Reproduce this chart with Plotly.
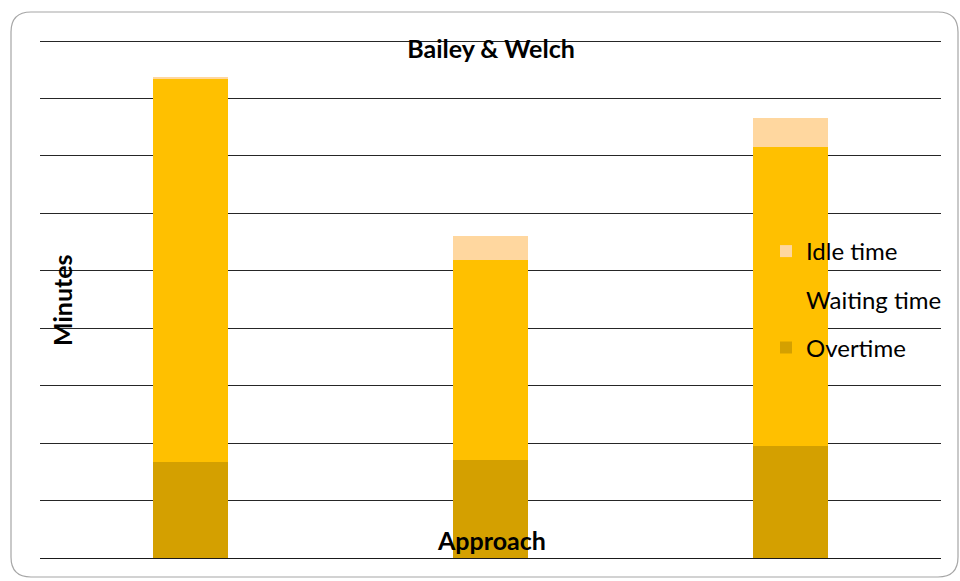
import plotly.graph_objects as go

# Stacked time components (minutes) for each scheduling approach
approaches = ["Approach A", "Approach B", "Approach C"]
overtime = [16.7, 17.1, 19.5]
waiting_time = [66.7, 34.7, 52.1]
idle_time = [0.35, 4.2, 5.0]

series_names = ["Overtime", "Waiting time", "Idle time"]
series_colors = ["#D4A000", "#FFC000", "#FFD79F"]
legend_ranks = [3, 2, 1]

W, H = 960, 581
L, R, T, B = 40, 19, 39, 23
FONT = "Lato, 'Open Sans', sans-serif"

# plot area in pixels; the 0-90 grid spans 517 px, with a little headroom
pw, ph = W - L - R, H - T - B
y_top = 90 * ph / 517

fig = go.Figure()
for name, vals, col, rank in zip(series_names, [overtime, waiting_time, idle_time],
                                 series_colors, legend_ranks):
    fig.add_trace(go.Bar(
        x=approaches, y=vals, name=name, legendgroup=name, legendrank=rank,
        marker=dict(color=col, line=dict(width=0)),
        width=0.25,
    ))

# helpers: pixel -> paper coordinates
def px(x):
    return (x - L) / pw
def py(y):
    return (H - B - y) / ph

# rounded chart border
x0, x1, y0, y1 = px(11), px(958), py(12), py(577)
rx, ry = 20 / pw, 20 / ph
path = (f"M{x0+rx},{y0} L{x1-rx},{y0} Q{x1},{y0} {x1},{y0-ry} "
        f"L{x1},{y1+ry} Q{x1},{y1} {x1-rx},{y1} L{x0+rx},{y1} "
        f"Q{x0},{y1} {x0},{y1+ry} L{x0},{y0-ry} Q{x0},{y0} {x0+rx},{y0} Z")

fig.update_layout(
    width=W, height=H,
    margin=dict(l=L, r=R, t=T, b=B),
    paper_bgcolor="white", plot_bgcolor="white",
    barmode="stack",
    font=dict(family=FONT, color="black"),
    title=dict(text="<b>Bailey & Welch</b>", x=px(491), xref="paper", xanchor="center",
               y=1 - 49 / H, yanchor="middle", font=dict(size=25, family=FONT)),
    xaxis=dict(showticklabels=False, showgrid=False, ticks="", showline=False,
               zeroline=False),
    yaxis=dict(range=[0, y_top], tick0=0, dtick=10, showticklabels=False, ticks="",
               showgrid=True, gridcolor="#262626", gridwidth=1.4,
               zeroline=True, zerolinecolor="#1a1a1a", zerolinewidth=1.4,
               showline=False),
    legend=dict(x=px(766), y=py(229), xanchor="left", yanchor="top",
                bgcolor="rgba(0,0,0,0)", traceorder="grouped",
                tracegroupgap=14, font=dict(size=24, family=FONT)),
    showlegend=True,
    shapes=[dict(type="path", path=path, xref="paper", yref="paper",
                 line=dict(color="#a6a6a6", width=1.2), layer="below")],
    annotations=[
        dict(text="<b>Approach</b>", x=px(491), y=py(540), xref="paper", yref="paper",
             showarrow=False, xanchor="center", yanchor="middle", font=dict(size=25)),
        dict(text="<b>Minutes</b>", x=px(62), y=py(300), xref="paper", yref="paper",
             showarrow=False, textangle=-90, xanchor="center", yanchor="middle",
             font=dict(size=25)),
    ],
)

fig.write_html("out.html")
